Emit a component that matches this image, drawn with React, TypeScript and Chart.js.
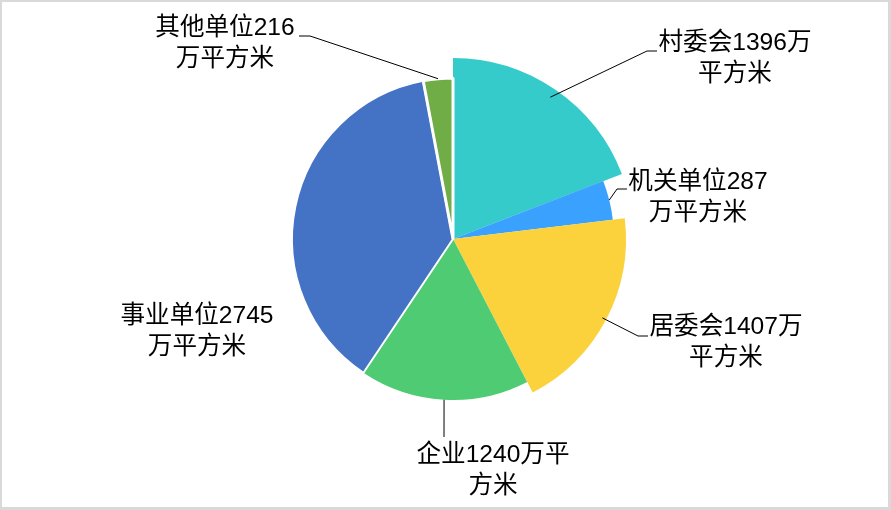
import { useEffect, useRef } from 'react';
import { ArcElement, Chart, PieController } from 'chart.js';

Chart.register(PieController, ArcElement);

// data
const categories = ['村委会', '机关单位', '居委会', '企业', '事业单位', '其他单位'];
const areas = [1396, 287, 1407, 1240, 2745, 216];
const unit = '万平方米';

// styles
const colors = ['#36CBCB', '#3AA1FF', '#FCD23C', '#4ECB73', '#4472C4', '#70AD47'];
const borders = [0, 0, 0, 0, 2, 3];
const extraRadius = [20, 0, 12, 0, 0, 0];
const BASE_R = 161;
const LINE_H = 31;
const FONT = '24.6px "Liberation Sans", "Noto Sans CJK SC", sans-serif';

// label boxes: where the text line breaks, block centre, and leader-line bends
const labelStyles = [
   { breakAt: 8, cx: 735, cy: 43, inset: 9, path: [[647, 51], [657, 51]] },
   { breakAt: 7, cx: 698, cy: 182, inset: 0, path: [[617, 189], [627, 189]] },
   { breakAt: 8, cx: 726, cy: 327, inset: 4, path: [[638, 336], [648, 336]] },
   { breakAt: 8, cx: 493, cy: 455, inset: 0, path: [[444, 437]] },
   { breakAt: 8, cx: 197, cy: 316, inset: 0, path: [] },
   { breakAt: 7, cx: 225, cy: 28, inset: 0, path: [[310, 36], [299, 36]] },
];

const explodePlugin = {
   id: 'explode',
   afterDatasetUpdate(chart: any) {
      const meta = chart.getDatasetMeta(0);
      meta.data.forEach((arc: any, i: number) => {
         arc.outerRadius = BASE_R + extraRadius[i];
      });
   },
};

const labelPlugin = {
   id: 'pieLabels',
   afterDatasetsDraw(chart: any) {
      const ctx = chart.ctx as CanvasRenderingContext2D;
      const meta = chart.getDatasetMeta(0);
      ctx.save();
      ctx.font = FONT;
      ctx.fillStyle = '#000';
      ctx.strokeStyle = '#000';
      ctx.lineWidth = 1;
      ctx.textAlign = 'center';
      ctx.textBaseline = 'middle';
      meta.data.forEach((arc: any, i: number) => {
         const s = labelStyles[i];
         const { x, y, startAngle, endAngle, outerRadius } = arc.getProps(
            ['x', 'y', 'startAngle', 'endAngle', 'outerRadius'],
            true,
         );
         const mid = (startAngle + endAngle) / 2;
         if (s.path.length) {
            const r = outerRadius - s.inset;
            ctx.beginPath();
            ctx.moveTo(x + Math.cos(mid) * r, y + Math.sin(mid) * r);
            s.path.forEach(([px, py]) => ctx.lineTo(px, py));
            ctx.stroke();
         }
         const text = categories[i] + areas[i] + unit;
         const lines = [text.slice(0, s.breakAt), text.slice(s.breakAt)];
         lines.forEach((ln, k) => ctx.fillText(ln, s.cx, s.cy + k * LINE_H));
      });
      ctx.restore();
   },
};

const framePlugin = {
   id: 'frame',
   beforeDraw(chart: any) {
      const ctx = chart.ctx as CanvasRenderingContext2D;
      ctx.save();
      ctx.fillStyle = '#fff';
      ctx.fillRect(0, 0, chart.width, chart.height);
      ctx.restore();
   },
   afterDraw(chart: any) {
      const ctx = chart.ctx as CanvasRenderingContext2D;
      ctx.save();
      ctx.strokeStyle = '#D9D9D9';
      ctx.lineWidth = 3;
      ctx.strokeRect(0.5, 0.5, chart.width - 2, chart.height - 2);
      ctx.restore();
   },
};

export default function App() {
   const canvasRef = useRef<HTMLCanvasElement>(null);

   useEffect(() => {
      document.body.style.margin = '0';
      const canvas = canvasRef.current;
      if (!canvas) return;
      const chart = new Chart(canvas, {
         type: 'pie',
         data: {
            labels: categories,
            datasets: [
               {
                  data: areas,
                  backgroundColor: colors,
                  borderColor: '#fff',
                  borderWidth: borders,
               },
            ],
         },
         options: {
            responsive: false,
            animation: false,
            events: [],
            radius: BASE_R,
            layout: { padding: { left: 15, right: 0, top: 0, bottom: 32 } },
         } as any,
         plugins: [explodePlugin, labelPlugin, framePlugin],
      });
      return () => {
         chart.destroy();
      };
   }, []);

   return (
      <canvas
         ref={canvasRef}
         width={891}
         height={510}
         style={{ display: 'block' }}
      />
   );
}
